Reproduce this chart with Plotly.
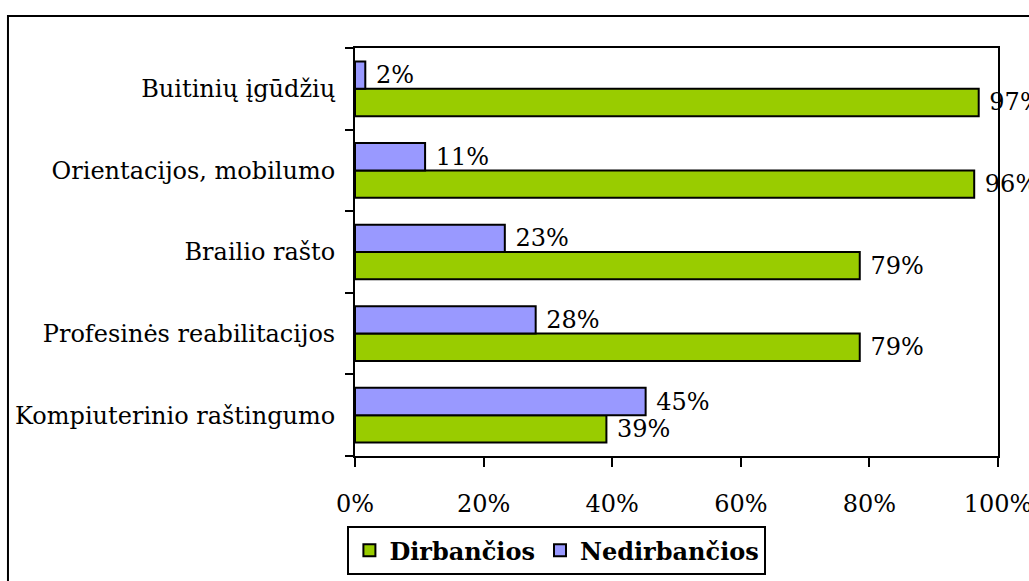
import plotly.graph_objects as go

# categories listed bottom to top
categories = ['Kompiuterinio raštingumo', 'Profesinės reabilitacijos', 'Brailio rašto',
              'Orientacijos, mobilumo', 'Buitinių įgūdžių']
dirbancios = [39.1, 78.5, 78.5, 96.3, 97.0]
nedirbancios = [45.2, 28.1, 23.3, 10.9, 1.6]
x_ticks = [0, 20, 40, 60, 80, 100]
x_tick_labels = ['0%', '20%', '40%', '60%', '80%', '100%']

font_family = 'DejaVu Serif'
font_size = 24

trace1 = go.Bar(y=categories, x=dirbancios, orientation='h', name='Dirbančios',
                marker=dict(color='#99CC00', line=dict(color='black', width=2)),
                text=dirbancios, texttemplate='\u00a0%{x:.0f}%', textposition='outside',
                constraintext='none', cliponaxis=False,
                textfont=dict(family=font_family, size=font_size, color='black'))
trace2 = go.Bar(y=categories, x=nedirbancios, orientation='h', name='Nedirbančios',
                marker=dict(color='#9999FF', line=dict(color='black', width=2)),
                text=nedirbancios, texttemplate='\u00a0%{x:.0f}%', textposition='outside',
                constraintext='none', cliponaxis=False,
                textfont=dict(family=font_family, size=font_size, color='black'))

layout = go.Layout(
    width=1029, height=581,
    margin=dict(l=355, r=31, t=48, b=125, autoexpand=False),
    paper_bgcolor='white', plot_bgcolor='white',
    font=dict(family=font_family, size=font_size, color='black'),
    barmode='group', bargap=0.33, bargroupgap=0,
    xaxis=dict(range=[0, 100], tickvals=x_ticks, ticktext=x_tick_labels,
               showgrid=False, zeroline=False, automargin=False,
               showline=True, linecolor='black', linewidth=2, mirror=True,
               ticks='outside', ticklen=9, tickwidth=2, tickcolor='black',
               ticklabelstandoff=16, ticklabeloverflow='allow'),
    yaxis=dict(categoryorder='array', categoryarray=categories,
               showgrid=False, zeroline=False, automargin=False,
               showline=True, linecolor='black', linewidth=2, mirror=True,
               ticks='outside', ticklen=8, tickwidth=2, tickcolor='black',
               tickson='boundaries', ticklabelstandoff=13),
    showlegend=True,
    legend=dict(orientation='h', x=0.314, xanchor='center', y=-0.172, yanchor='top',
                bordercolor='black', borderwidth=2, bgcolor='white',
                font=dict(family=font_family, size=font_size, color='black', weight='bold'),
                itemsizing='constant', traceorder='normal'),
    shapes=[dict(type='rect', xref='paper', yref='paper',
                 x0=-0.5397, x1=1.2, y0=1.0784, y1=-0.5,
                 line=dict(color='black', width=2), fillcolor='rgba(0,0,0,0)',
                 layer='below')],
)

fig = go.Figure(data=[trace1, trace2], layout=layout)
fig.write_html('out.html', config={'displayModeBar': False},
               post_script="document.body.style.margin='0';")
